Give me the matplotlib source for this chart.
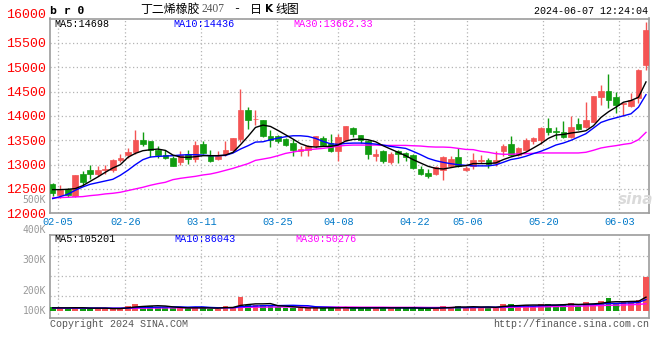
"""Daily K-line chart for BR2407 (butadiene rubber), sina finance style."""

import matplotlib
matplotlib.use("Agg")
import matplotlib.pyplot as plt
import numpy as np

RED = "#f45454"
GREEN = "#109c10"
GRID = "#b4b4b4"
FRAME = "#9c9c9c"
BLUE_TXT = "#0078c8"
MONO = "Liberation Mono"
CJK = ["Noto Sans CJK SC", "DejaVu Sans"]

# daily OHLC, 2024-02-02 .. 2024-06-07
opens = [12595, 12370, 12500, 12363, 12814, 12896, 12814, 12882, 12882, 13087,
         13189, 13250, 13510, 13490, 13305, 13203, 13142, 13046, 13223, 13114,
         13421, 13183, 13114, 13223, 13292, 13524, 14125, 13930, 13920, 13592,
         13578, 13524, 13442, 13285, 13292, 13374, 13544, 13442, 13271, 13510,
         13749, 13613, 13490, 13183, 13271, 13053, 13271, 13237, 13203, 12910,
         12828, 12814, 12896, 12978, 13155, 12899, 12980, 13069, 13103, 13035,
         13273, 13430, 13205, 13307, 13484, 13512, 13757, 13696, 13675, 13566,
         13838, 13770, 13879, 14398, 14520, 14397, 14253, 14206, 14363, 15044]
highs = [12623, 12582, 12520, 12793, 12862, 12991, 12964, 12985, 13114, 13210,
         13339, 13701, 13660, 13490, 13374, 13305, 13169, 13271, 13292, 13490,
         13490, 13305, 13271, 13490, 13544, 14548, 14180, 14125, 13920, 13701,
         13613, 13544, 13524, 13374, 13408, 13592, 13592, 13633, 13633, 13797,
         13770, 13613, 13510, 13319, 13292, 13251, 13292, 13251, 13224, 12978,
         12910, 12978, 13183, 13183, 13340, 12967, 13239, 13205, 13137, 13273,
         13430, 13593, 13355, 13546, 13559, 13770, 13947, 13770, 13886, 13988,
         13947, 14288, 14410, 14635, 14860, 14499, 14275, 14479, 14955, 15929]
lows = [12350, 12316, 12336, 12336, 12589, 12705, 12773, 12800, 12841, 13046,
        13135, 13223, 13387, 13148, 13135, 13114, 12964, 12998, 13019, 13046,
        13223, 13046, 13087, 13169, 13271, 13456, 13729, 13817, 13565, 13353,
        13442, 13374, 13183, 13169, 13183, 13346, 13374, 13251, 13067, 13490,
        13565, 13442, 13121, 13067, 13032, 13019, 13032, 13067, 12910, 12794,
        12725, 12794, 12677, 12950, 12950, 12865, 12912, 13035, 12933, 12980,
        13185, 13185, 13185, 13273, 13430, 13430, 13607, 13525, 13546, 13546,
        13702, 13750, 13866, 14227, 14158, 14056, 13988, 14179, 14261, 14942]
closes = [12409, 12486, 12384, 12793, 12637, 12814, 12896, 12916, 13087, 13135,
          13250, 13510, 13428, 13305, 13203, 13142, 12978, 13203, 13114, 13408,
          13237, 13080, 13183, 13292, 13544, 14125, 13906, 13940, 13592, 13510,
          13490, 13408, 13292, 13319, 13374, 13592, 13408, 13271, 13565, 13783,
          13633, 13497, 13223, 13223, 13066, 13223, 13223, 13155, 12930, 12814,
          12773, 12950, 13155, 13114, 12978, 12939, 13103, 13103, 13021, 13103,
          13389, 13205, 13334, 13498, 13539, 13757, 13661, 13661, 13566, 13770,
          13736, 13906, 14410, 14520, 14329, 14227, 14275, 14329, 14942, 15772]

ma5 = [12486, 12486, 12493, 12507, 12568, 12657, 12746, 12841, 12930, 12998,
       13148, 13230, 13285, 13305, 13319, 13292, 13196, 13155, 13148, 13162,
       13183, 13183, 13183, 13196, 13251, 13408, 13578, 13763, 13811, 13783,
       13701, 13613, 13524, 13428, 13374, 13360, 13374, 13374, 13401, 13483,
       13517, 13524, 13510, 13469, 13387, 13319, 13251, 13183, 13101, 13032,
       12964, 12923, 12910, 12937, 12964, 12978, 13021, 13021, 13021, 13035,
       13103, 13157, 13198, 13253, 13341, 13430, 13539, 13607, 13620, 13648,
       13668, 13695, 13798, 13968, 14084, 14179, 14281, 14315, 14383, 14698]
ma10 = [12302, 12343, 12391, 12473, 12541, 12596, 12630, 12664, 12698, 12780,
        12882, 12998, 13101, 13155, 13169, 13176, 13183, 13196, 13203, 13203,
        13196, 13183, 13183, 13189, 13237, 13319, 13387, 13462, 13469, 13510,
        13544, 13572, 13592, 13592, 13578, 13538, 13476, 13428, 13415, 13435,
        13442, 13442, 13435, 13421, 13401, 13374, 13353, 13333, 13271, 13203,
        13128, 13080, 13046, 13019, 12998, 12985, 12974, 12974, 12974, 12994,
        13048, 13103, 13130, 13171, 13225, 13273, 13334, 13402, 13443, 13498,
        13566, 13634, 13750, 13866, 13920, 13961, 14002, 14043, 14179, 14436]
ma30 = [12316, 12323, 12329, 12336, 12343, 12363, 12377, 12398, 12411, 12432,
        12466, 12500, 12534, 12575, 12609, 12637, 12691, 12718, 12739, 12759,
        12787, 12807, 12841, 12882, 12923, 12971, 13019, 13087, 13114, 13142,
        13183, 13230, 13258, 13285, 13305, 13319, 13333, 13353, 13381, 13394,
        13401, 13401, 13401, 13401, 13394, 13394, 13394, 13394, 13387, 13381,
        13367, 13360, 13360, 13353, 13333, 13312, 13307, 13273, 13253, 13225,
        13212, 13212, 13219, 13225, 13232, 13239, 13239, 13239, 13239, 13239,
        13239, 13253, 13294, 13341, 13368, 13389, 13416, 13437, 13512, 13662]

# volume in thousands of lots
vol_k = [28, 16, 16, 28, 16, 12, 16, 16, 16, 16,
         35, 49, 33, 33, 26, 26, 16, 16, 16, 26,
         26, 12, 12, 35, 28, 98, 40, 37, 37, 37,
         26, 21, 21, 16, 16, 26, 16, 26, 16, 26,
         16, 16, 26, 16, 26, 16, 16, 26, 16, 16,
         16, 16, 35, 26, 35, 16, 26, 26, 26, 26,
         47, 47, 35, 40, 33, 47, 47, 35, 47, 54,
         35, 58, 47, 68, 91, 51, 58, 58, 72, 238]
vol_ma5 = [20, 20, 20, 21, 21, 18, 18, 18, 15, 15,
           20, 26, 30, 33, 35, 33, 27, 23, 20, 20,
           20, 19, 18, 22, 23, 37, 43, 48, 48, 50,
           35, 32, 28, 24, 20, 20, 19, 20, 20, 22,
           20, 20, 20, 20, 20, 20, 20, 20, 20, 18,
           18, 18, 20, 22, 26, 26, 28, 26, 26, 24,
           30, 34, 36, 39, 40, 40, 40, 40, 42, 46,
           44, 46, 48, 52, 60, 63, 63, 65, 66, 95]
vol_ma10 = [20, 20, 19, 19, 19, 19, 19, 19, 18, 18,
            19, 22, 24, 24, 25, 26, 27, 27, 25, 27,
            27, 23, 21, 21, 21, 28, 31, 33, 35, 36,
            36, 37, 38, 36, 35, 28, 26, 24, 22, 21,
            20, 20, 20, 20, 21, 20, 20, 20, 20, 19,
            19, 19, 20, 21, 22, 22, 23, 24, 26, 25,
            27, 30, 31, 33, 32, 35, 37, 38, 40, 43,
            42, 43, 44, 47, 51, 51, 53, 55, 58, 78]
vol_ma30 = [17, 17, 17, 17, 17, 17, 17, 17, 17, 17,
            17, 18, 18, 19, 19, 20, 20, 20, 20, 20,
            21, 21, 21, 21, 21, 23, 24, 25, 25, 26,
            26, 26, 26, 26, 26, 26, 26, 26, 26, 26,
            26, 25, 25, 25, 25, 24, 24, 24, 24, 24,
            23, 23, 23, 23, 23, 22, 22, 22, 22, 22,
            23, 24, 25, 26, 26, 27, 28, 29, 30, 31,
            32, 33, 35, 36, 38, 39, 40, 42, 44, 49]

date_labels = ["02-05", "02-26", "03-11", "03-25", "04-08",
               "04-22", "05-06", "05-20", "06-03"]
date_pos = [0.7, 9.67, 19.79, 29.91, 38.03, 48.15, 55.21, 65.33, 75.45]
price_ticks = [12000, 12500, 13000, 13500, 14000, 14500, 15000, 15500, 16000]
vol_labels = ["400K", "300K", "200K", "100K"]


def fx(px):
    return px / 660


def fy(py):
    return 1 - py / 360


fig = plt.figure(figsize=(6.6, 3.6), dpi=100)
ax = fig.add_axes([fx(50), fy(213.3), 599.3 / 660, 194.8 / 360])
axv = fig.add_axes([fx(50), fy(318.3), 599.3 / 660, 83.3 / 360])

o = np.array(opens)
c = np.array(closes)
x = np.arange(len(c))
cols = np.where(c >= o, RED, GREEN)

for a in (ax, axv):
    a.set_xlim(-0.36, 79.44)
    for s in a.spines.values():
        s.set_color(FRAME)
        s.set_linewidth(1.2)
    a.set_xticks(date_pos)
    a.grid(True, color=GRID, linestyle=(0, (1, 2)), linewidth=0.9)
    a.set_axisbelow(True)

# candles
ax.vlines(x, lows, highs, colors=cols, linewidth=1.0, zorder=3)
ax.bar(x, c - o, bottom=o, width=0.74, color=cols, edgecolor=cols,
       linewidth=0.5, zorder=4)
ax.plot(x, ma30, color="#ff00ff", lw=1.0, zorder=5)
ax.plot(x, ma10, color="#0000ff", lw=1.0, zorder=5)
ax.plot(x, ma5, color="black", lw=1.0, zorder=5)
ax.set_ylim(12000, 16000)
# the top value is written above the frame, next to the header
ax.set_yticks(price_ticks,
              labels=[str(p) for p in price_ticks[:-1]] + [""],
              fontfamily=MONO, fontsize=9.5, color="red")
ax.set_xticklabels(date_labels, fontfamily=MONO, fontsize=7.4, color=BLUE_TXT)
ax.tick_params(length=0, pad=3)

# volume
axv.bar(x, vol_k, width=0.78, color=cols, zorder=3)
axv.plot(x, vol_ma30, color="#ff00ff", lw=1.0, zorder=4)
axv.plot(x, vol_ma10, color="#0000ff", lw=1.0, zorder=4)
axv.plot(x, vol_ma5, color="black", lw=1.0, zorder=4)
axv.set_ylim(-53, 530)
axv.set_yticks([105, 245, 385])
axv.set_yticklabels([])
axv.set_xticklabels([])
axv.tick_params(length=0)

# header
fig.text(fx(50), fy(11), "b r 0", fontfamily="DejaVu Sans Mono",
         fontweight="bold", fontsize=8.2, va="center")
fig.text(fx(140), fy(9), "丁二烯橡胶", family=CJK, fontsize=8.6, va="center")
fig.text(fx(201), fy(9.5), "2407", fontfamily="Liberation Serif",
         fontsize=8.3, color="#555555", va="center")
fig.text(fx(233), fy(9), "-", fontfamily=MONO, fontsize=8.6, va="center")
fig.text(fx(250), fy(9), "日", family=CJK, fontsize=8.6, va="center")
fig.text(fx(264.5), fy(9), "K", fontfamily="DejaVu Sans", fontweight="bold",
         fontsize=7.6, va="center")
fig.text(fx(275), fy(9), "线图", family=CJK, fontsize=8.6, va="center")
fig.text(fx(648), fy(11), "2024-06-07 12:24:04", fontfamily=MONO,
         fontsize=7.2, ha="right", va="center")
fig.text(fx(46), fy(15), "16000", fontfamily=MONO, fontsize=9.5,
         color="red", ha="right", va="center")

# legends
fig.text(fx(54), fy(24), "MA5:14698", fontfamily=MONO, fontsize=7.3, va="center")
fig.text(fx(173), fy(24), "MA10:14436", fontfamily=MONO, fontsize=7.3,
         color="#0000ff", va="center")
fig.text(fx(293), fy(24), "MA30:13662.33", fontfamily=MONO, fontsize=7.3,
         color="#ff00ff", va="center")
fig.text(fx(54), fy(238.5), "MA5:105201", fontfamily=MONO, fontsize=7.3,
         va="center")
fig.text(fx(174), fy(238.5), "MA10:86043", fontfamily=MONO, fontsize=7.3,
         color="#0000ff", va="center")
fig.text(fx(295), fy(238.5), "MA30:50276", fontfamily=MONO, fontsize=7.3,
         color="#ff00ff", va="center")

# volume scale labels (grey)
for lab, py in zip(["500K"] + vol_labels, [200, 230, 260, 291, 311]):
    fig.text(fx(46), fy(py), lab, fontfamily="DejaVu Sans Mono", fontsize=7,
             color="#999999", ha="right", va="center")

# watermark and footer
fig.text(fx(636), fy(199), "sina", fontfamily="DejaVu Sans", fontsize=11,
         fontweight="bold", style="italic", color="#dadada",
         ha="center", va="center", zorder=0)
fig.text(fx(50), fy(324), "Copyright 2024 SINA.COM", fontfamily=MONO,
         fontsize=7.2, color="#555555", va="center")
fig.text(fx(649), fy(324), "http://finance.sina.com.cn", fontfamily=MONO,
         fontsize=7.2, color="#555555", ha="right", va="center")

fig.savefig("out.png", dpi=100, facecolor="white")
